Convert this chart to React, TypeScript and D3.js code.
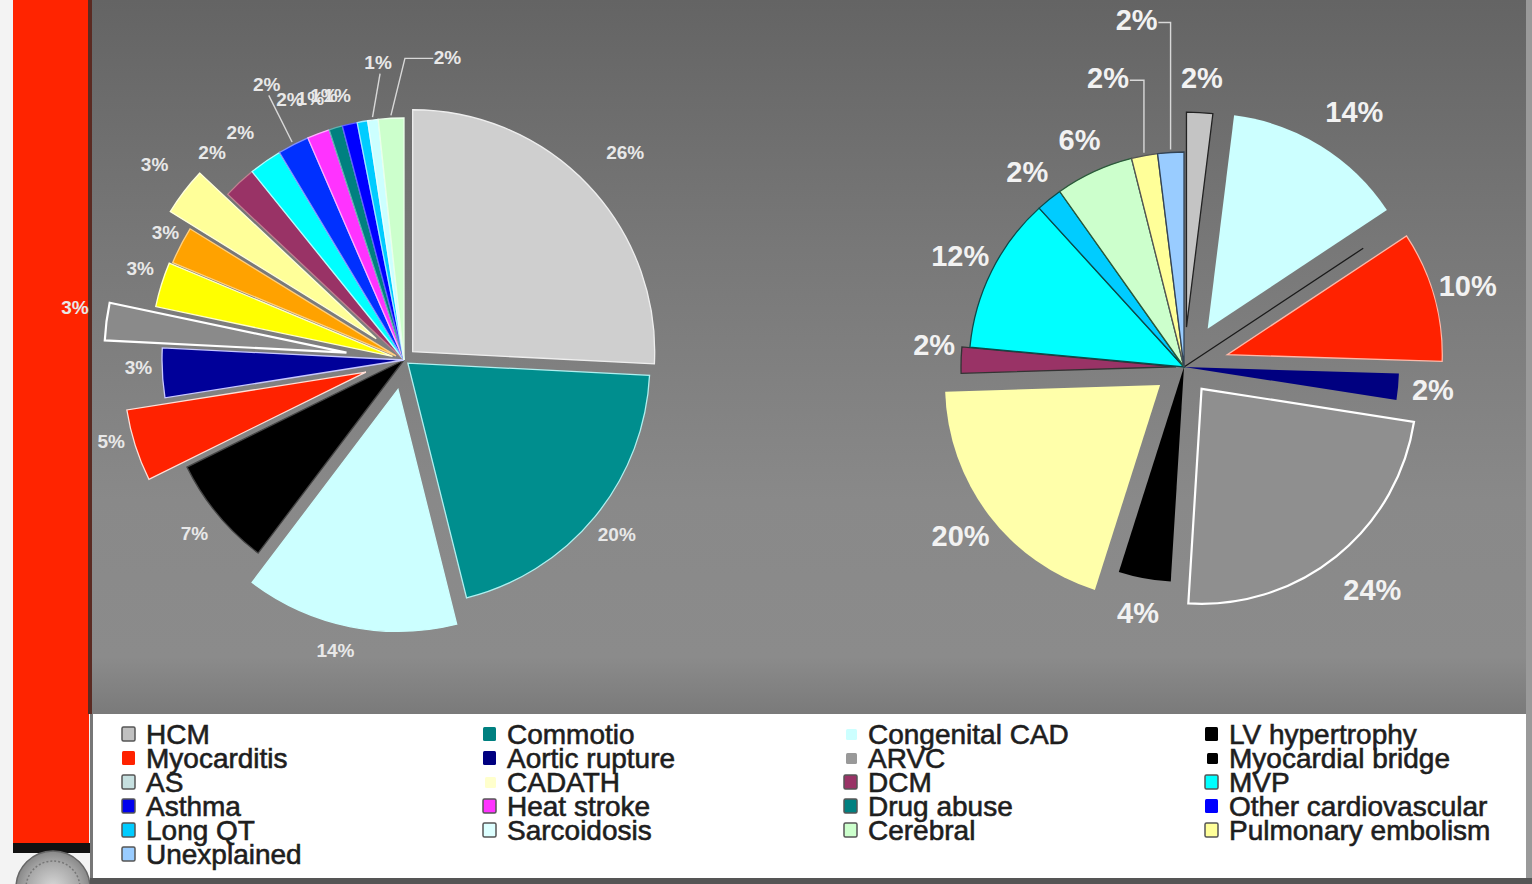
import React from 'react'
import * as d3 from 'd3'

const W = 1532
const H = 884

// ---- left pie (all causes) ----
const leftCauses = [
  'HCM', 'Commotio', 'Congenital CAD', 'LV hypertrophy', 'Myocarditis', 'Aortic rupture',
  'ARVC', 'Myocardial bridge', 'AS', 'CADATH', 'DCM', 'MVP', 'Asthma', 'Heat stroke',
  'Drug abuse', 'Other cardiovascular', 'Long QT', 'Sarcoidosis', 'Cerebral',
]
// shares (labels show them rounded)
const leftShare = [25.8, 20.3, 14.2, 7.4, 4.8, 3.3, 2.5, 3.0, 2.5, 3.2, 2.2, 2.2, 2.1, 1.5, 0.9, 1.0, 0.7, 0.7, 1.7]
const leftFill = [
  '#cfcfcf', '#008e8e', '#ccffff', '#000000', '#ff2200', '#000099',
  '#8a8a8a', '#ffff00', '#ffa200', '#ffff99', '#993366', '#00ffff', '#0030ff', '#ff33ff',
  '#008080', '#0000ff', '#00ccff', '#ccffff', '#ccffcc',
]

// ---- right pie ----
const rightCauses = [
  'HCM', 'Congenital CAD', 'LV hypertrophy', 'Myocarditis', 'Aortic rupture', 'ARVC',
  'Myocardial bridge', 'CADATH', 'DCM', 'MVP', 'Long QT', 'Cerebral', 'Pulmonary embolism', 'Unexplained',
]
const rightShare = [2, 14, 0, 10, 2, 24, 4, 20, 2, 12, 2, 6, 2, 2]
const rightFill = [
  '#c4c4c4', '#ccffff', '#000000', '#ff2200', '#000080', '#8f8f8f',
  '#000000', '#ffffaa', '#993366', '#00ffff', '#00ccff', '#ccffcc', '#ffff99', '#99ccff',
]

// ---- legend ----
const legendNames = [
  'HCM', 'Commotio', 'Congenital CAD', 'LV hypertrophy',
  'Myocarditis', 'Aortic rupture', 'ARVC', 'Myocardial bridge',
  'AS', 'CADATH', 'DCM', 'MVP',
  'Asthma', 'Heat stroke', 'Drug abuse', 'Other cardiovascular',
  'Long QT', 'Sarcoidosis', 'Cerebral', 'Pulmonary embolism',
  'Unexplained',
]
const legendColors = [
  '#c0c0c0', '#008080', '#ccffff', '#000000',
  '#ff2200', '#000080', '#999999', '#000000',
  '#c6e0e0', '#ffffcc', '#993366', '#00ffff',
  '#0000ee', '#ff33ff', '#008080', '#0000ff',
  '#00ccff', '#ddffff', '#ccffcc', '#ffff99',
  '#99ccff',
]

// layout (not data)
const leftExplode = [12, 5, 30, 0, 40, 0, 58, 12, 9, 35, 0, 0, 0, 0, 0, 0, 0, 0, 0]
const leftStroke = [
  '#eeeeee', '#b0f0f0', '#ccffff', '#444', '#ffe0d8', '#c8c8ff',
  '#ffffff', '#ffffcc', '#ffd080', '#ffffdd', '#c08090', '#b0ffff', '#8090ff', '#ffb0ff',
  '#60b0b0', '#6060ff', '#a0e8ff', '#e8ffff', '#eaffea',
]
const leftLabelShift: Record<number, [number, number]> = {
  0: [18, -14], 2: [-10, 3], 4: [-7, -9], 5: [6, -7], 6: [-19, -12], 7: [4, -8],
  8: [9, 0], 9: [-14, -15], 10: [-7, -8], 11: [-8, -4],
  12: [-13, -34], 13: [-18, -6], 14: [-17, -1], 15: [-19, 1], 16: [-20, 3],
  17: [9, -28], 18: [58, -31],
}
const leftLeader = [12, 17, 18]

const rightExplode = [40, 45, 0, 45, 0, 28, 0, 30, 8, 0, 0, 0, 0, 0]
const rightStroke = [
  '#222', 'none', '#1a1a1a', '#ffb8a8', 'none', '#ffffff',
  'none', 'none', '#333', '#0a4a4a', '#0a4a4a', '#2a5a3a', '#555', '#334455',
]
const rightLabelShift: Record<number, [number, number]> = {
  1: [15, -4], 5: [14, 6], 8: [8, -14], 12: [-30, -43], 13: [-32, -97],
}
const rightLeader = [12, 13]

const LC = { x: 404, y: 360, r: 242 }
const RC = { x: 1184, y: 367, r: 215 }

const pieGen = d3.pie<number>().sort(null).value(d => d)

function polar(a: number, r: number): [number, number] {
  return [Math.sin(a) * r, -Math.cos(a) * r]
}

function Pie({
  values, fills, strokes, explode, cx, cy, r, labelR, shifts, leaders, elbowLeft, fontSize, labelFill, wide,
}: {
  values: number[]; fills: string[]; strokes: string[]; explode: number[]
  cx: number; cy: number; r: number; labelR: (i: number) => number
  shifts: Record<number, [number, number]>; leaders: number[]; elbowLeft: boolean
  fontSize: number; labelFill: string; wide: Set<number>
}) {
  const arcs = pieGen(values)
  const arc = d3.arc<d3.PieArcDatum<number>>().innerRadius(0).outerRadius(r)
  const line = d3.line()
  return (
    <g transform={`translate(${cx},${cy})`}>
      {arcs.map((a, i) => {
        const mid = (a.startAngle + a.endAngle) / 2
        const [dx, dy] = polar(mid, explode[i])
        return (
          <path
            key={i}
            d={arc(a) || ''}
            transform={`translate(${dx},${dy})`}
            fill={fills[i]}
            stroke={strokes[i]}
            strokeWidth={wide.has(i) ? 2.2 : 1.3}
            strokeLinejoin="miter"
          />
        )
      })}
      {arcs.map((a, i) => {
        if (a.data === 0) return null
        const mid = (a.startAngle + a.endAngle) / 2
        const [lx0, ly0] = polar(mid, labelR(i))
        const s = shifts[i] || [0, 0]
        const lx = lx0 + s[0]
        const ly = ly0 + s[1]
        let leader = null
        if (leaders.includes(i)) {
          const [ox, oy] = polar(mid, r + 3 + explode[i])
          const half = fontSize * 0.75
          let pts: [number, number][]
          if (elbowLeft && lx < ox - half) {
            pts = [[lx + half, ly + 2], [ox, ly + 2], [ox, oy]]
          } else if (lx > ox + half) {
            pts = [[lx - half, ly + 1], [ox + 14, ly + 1], [ox, oy]]
          } else {
            pts = [[lx + 2, ly + fontSize * 0.6], [ox, oy]]
          }
          leader = <path d={line(pts) || ''} fill="none" stroke="#d8d8d8" strokeWidth={1.4} />
        }
        return (
          <g key={'l' + i}>
            {leader}
            <text
              x={lx}
              y={ly}
              textAnchor="middle"
              dominantBaseline="central"
              fontFamily="'Liberation Sans', Arial, sans-serif"
              fontWeight="bold"
              fontSize={fontSize}
              fill={labelFill}
            >
              {Math.round(a.data)}%
            </text>
          </g>
        )
      })}
    </g>
  )
}

export default function App() {
  const colX = d3.scaleLinear().domain([0, 3]).range([122, 1205])
  const rowY = d3.scaleLinear().domain([0, 5]).range([734, 854])
  const bordered = new Set(['HCM', 'AS', 'Heat stroke', 'Sarcoidosis', 'Cerebral', 'Pulmonary embolism', 'Unexplained', 'MVP', 'DCM', 'Long QT', 'Drug abuse', 'Asthma'])

  return (
    <svg
      width={W}
      height={H}
      style={{ position: 'absolute', left: 0, top: 0, display: 'block' }}
    >
      <defs>
        <linearGradient id="panel" x1="0" y1="0" x2="0" y2="1">
          <stop offset="0" stopColor="#646464" />
          <stop offset="0.35" stopColor="#787878" />
          <stop offset="0.7" stopColor="#898989" />
          <stop offset="0.92" stopColor="#8b8b8b" />
          <stop offset="1" stopColor="#7a7a7a" />
        </linearGradient>
        <radialGradient id="seal" cx="0.5" cy="0.5" r="0.5">
          <stop offset="0" stopColor="#d8d8d8" />
          <stop offset="0.7" stopColor="#a8a8a8" />
          <stop offset="1" stopColor="#888" />
        </radialGradient>
      </defs>

      {/* page strip & red bar */}
      <rect x={0} y={0} width={W} height={H} fill="#f3f3f3" />
      <rect x={13} y={0} width={76} height={844} fill="#ff2400" />
      <rect x={88} y={0} width={4} height={714} fill="#5a2a22" />
      <rect x={13} y={843} width={77} height={10} fill="#111" />
      <circle cx={53} cy={888} r={37} fill="url(#seal)" stroke="#666" strokeWidth={1.5} />
      <circle cx={53} cy={888} r={27} fill="none" stroke="#777" strokeWidth={1.5} strokeDasharray="2 2" />

      {/* chart panel */}
      <rect x={92} y={0} width={1434} height={714} fill="url(#panel)" />
      <rect x={1526} y={0} width={6} height={H} fill="#9a9a9a" />

      {/* legend panel */}
      <rect x={92} y={714} width={1434} height={164} fill="#ffffff" />
      <rect x={90} y={714} width={3} height={170} fill="#777" />
      <rect x={90} y={878} width={1442} height={6} fill="#555" />

      <Pie
        values={leftShare}
        fills={leftFill}
        strokes={leftStroke}
        explode={leftExplode}
        cx={LC.x}
        cy={LC.y}
        r={LC.r}
        labelR={i => 272 + leftExplode[i] * 0.7}
        shifts={leftLabelShift}
        leaders={leftLeader}
        elbowLeft={false}
        fontSize={19}
        labelFill="#e8e8e8"
        wide={new Set([6])}
      />
      <Pie
        values={rightShare}
        fills={rightFill}
        strokes={rightStroke}
        explode={rightExplode}
        cx={RC.x}
        cy={RC.y}
        r={RC.r}
        labelR={i => 250 + rightExplode[i]}
        shifts={rightLabelShift}
        leaders={rightLeader}
        elbowLeft={true}
        fontSize={29}
        labelFill="#f2f2f2"
        wide={new Set([5])}
      />

      {/* legend */}
      <g fontFamily="'Liberation Sans', Arial, sans-serif" fontSize={28}>
        {legendNames.map((name, i) => {
          const x = colX(i % 4)
          const y = rowY(Math.floor(i / 4))
          const small = name === 'Myocardial bridge' || name === 'ARVC' || name === 'Congenital CAD' || name === 'CADATH'
          return (
            <g key={name}>
              <rect
                x={x + (small ? 2 : 0)}
                y={y - 7 + (small ? 2 : 0)}
                width={small ? 11 : 13}
                height={small ? 11 : 14}
                rx={1.5}
                fill={legendColors[i]}
                stroke={bordered.has(name) ? '#555' : 'none'}
                strokeWidth={1.5}
              />
              <text
                x={x + 24}
                y={y}
                dominantBaseline="central"
                fill="#1e1e1e"
                stroke="#1e1e1e"
                strokeWidth={0.6}
              >
                {name}
              </text>
            </g>
          )
        })}
      </g>
    </svg>
  )
}
